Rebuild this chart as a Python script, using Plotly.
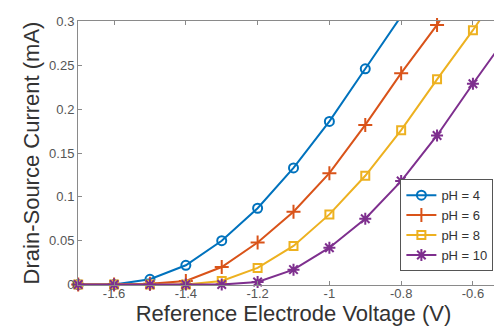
import plotly.graph_objects as go

# 資料 (V, mA)
voltage = [-1.7, -1.6, -1.5, -1.4, -1.3, -1.2, -1.1, -1.0, -0.9, -0.8, -0.7, -0.6, -0.5]
ph4 = [0, 0, 0.006, 0.022, 0.050, 0.087, 0.133, 0.186, 0.246, 0.306]
ph6 = [0, 0, 0.001, 0.004, 0.020, 0.048, 0.083, 0.127, 0.182, 0.241, 0.296, 0.36]
ph8 = [0, 0, 0, 0, 0.004, 0.019, 0.044, 0.080, 0.124, 0.176, 0.234, 0.290, 0.35]
ph10 = [0, 0, 0, 0, 0, 0.003, 0.017, 0.042, 0.075, 0.118, 0.170, 0.229, 0.286]

names = ["pH = 4", "pH = 6", "pH = 8", "pH = 10"]
x_ticks = [-1.6, -1.4, -1.2, -1.0, -0.8, -0.6]
x_ticktext = ["-1.6", "-1.4", "-1.2", "-1", "-0.8", "-0.6"]
y_ticks = [0, 0.05, 0.1, 0.15, 0.2, 0.25, 0.3]
y_ticktext = ["0", "0.05", "0.1", "0.15", "0.2", "0.25", "0.3"]

colors = ["#0072BD", "#D95319", "#EDB120", "#7E2F8E"]
symbols = ["circle-open", "cross-thin-open", "square-open", "asterisk-open"]
sizes = [9, 10, 8, 10]

fig = go.Figure()
for name, ys, c, s, sz in zip(names, [ph4, ph6, ph8, ph10], colors, symbols, sizes):
    fig.add_trace(go.Scatter(
        x=voltage[:len(ys)], y=ys, name=name,
        mode="lines+markers",
        line=dict(color=c, width=2),
        marker=dict(symbol=s, size=sz, color=c, line=dict(color=c, width=2)),
        cliponaxis=False,
    ))

axis_common = dict(
    showgrid=False, zeroline=False,
    showline=True, linecolor="#8a8a8a", linewidth=1, mirror="ticks",
    ticks="inside", ticklen=4, tickcolor="#8a8a8a",
    tickfont=dict(family="Liberation Sans, Arial", size=13, color="#555555"),
)

fig.update_layout(
    width=502, height=329,
    margin=dict(l=70, r=1, t=13, b=52),
    plot_bgcolor="white", paper_bgcolor="white",
    font=dict(family="Liberation Sans, Arial", color="#262626"),
    xaxis=dict(range=[-1.7005, -0.4995], tickvals=x_ticks, ticktext=x_ticktext,
               ticklabelstandoff=-4,
               title=dict(text="Reference Electrode Voltage (V)", font=dict(size=22, color="#333333"), standoff=3),
               **axis_common),
    yaxis=dict(range=[-0.0005, 0.3005], tickvals=y_ticks, ticktext=y_ticktext,
               title=dict(text="Drain-Source Current (mA)", font=dict(size=22, color="#333333"), standoff=3),
               **axis_common),
    legend=dict(x=0.748, y=0.052, xanchor="left", yanchor="bottom",
                bgcolor="white", bordercolor="#555555", borderwidth=1,
                font=dict(family="Liberation Sans, Arial", size=13, color="#333333"),
                tracegroupgap=0, itemwidth=30),
    showlegend=True,
)

fig.write_html("out.html")
